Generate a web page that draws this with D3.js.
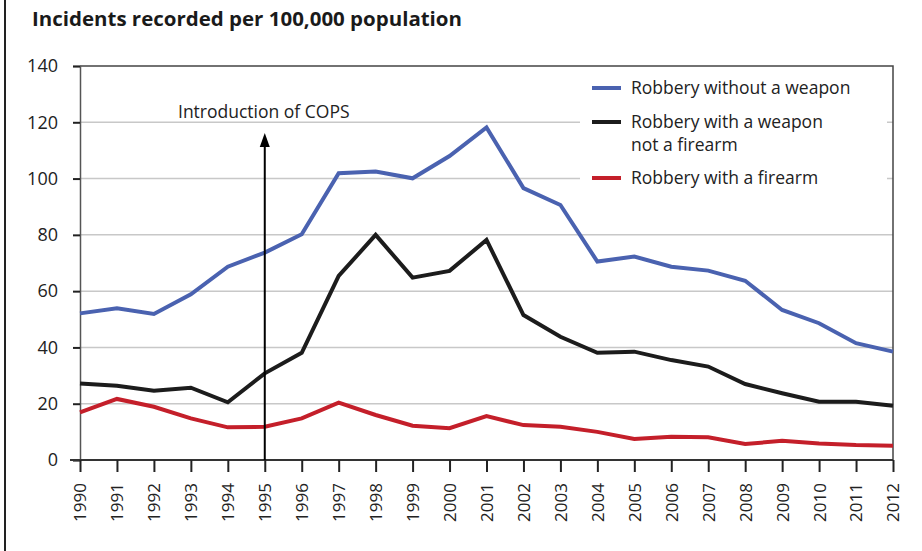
<!DOCTYPE html>
<html><head><meta charset="utf-8">
<script src="https://cdn.jsdelivr.net/npm/d3@7"></script>
<style>body{margin:0;background:#fff}svg{display:block;font-family:"Open Sans",sans-serif}</style>
</head><body><div id="chart"></div>
<script>
const years = d3.range(1990, 2013);
const withoutWeapon = [52.1,53.9,51.9,58.9,68.7,73.7,80.2,101.9,102.5,100.1,108,118.2,96.6,90.6,70.5,72.3,68.7,67.3,63.7,53.3,48.6,41.5,38.5];
const weaponNotFirearm = [27.2,26.4,24.6,25.7,20.5,30.8,38.1,65.4,80,64.8,67.2,78.2,51.5,43.8,38.1,38.5,35.5,33.2,27,23.7,20.7,20.7,19.3];
const withFirearm = [16.9,21.7,18.9,14.8,11.6,11.8,14.8,20.4,16,12.2,11.3,15.6,12.4,11.8,10,7.5,8.3,8.1,5.7,6.8,5.9,5.3,5.1];
const yTicks = [0,20,40,60,80,100,120,140];
const seriesNames = ["Robbery without a weapon", "Robbery with a weapon|not a firearm", "Robbery with a firearm"];
const seriesColors = ["#4a62b0", "#1c1c1c", "#c41f2a"];
const title = "Incidents recorded per 100,000 population";
const annotation = "Introduction of COPS";
const annotationYear = 1995;

const FONT = "'Open Sans',sans-serif";
const W = 922, H = 551;
const m = {left:80, right:29, top:66, bottom:91};
const svg = d3.select("#chart").append("svg").attr("width", W).attr("height", H);
const x = d3.scaleLinear().domain([1990, 2012]).range([m.left, W - m.right]);
const y = d3.scaleLinear().domain([0, 140]).range([H - m.bottom, m.top]);

// left page border
svg.append("line").attr("x1",5).attr("x2",5).attr("y1",0).attr("y2",H).attr("stroke","#222").attr("stroke-width",2);

svg.append("text").attr("x",32).attr("y",26).attr("font-size",19.5).attr("font-weight","bold").attr("fill","#1a1a1a")
  .attr("textLength",430).attr("lengthAdjust","spacingAndGlyphs").text(title);

// gridlines
svg.append("g").selectAll("line").data(yTicks.filter(d=>d>0 && d<140)).join("line")
  .attr("x1",m.left).attr("x2",W-m.right).attr("y1",d=>y(d)).attr("y2",d=>y(d))
  .attr("stroke","#c8c8c8").attr("stroke-width",1.5);

// frame top & right
svg.append("path").attr("d",`M${m.left},${y(140)}H${x(2012)}V${y(0)}`).attr("fill","none").attr("stroke","#444").attr("stroke-width",1.5);

// y axis
const ya = svg.append("g").attr("transform",`translate(${m.left},0)`)
  .call(d3.axisLeft(y).tickValues(yTicks).tickSize(7).tickPadding(15));
ya.select(".domain").attr("stroke","#555").attr("stroke-width",1.5);
ya.selectAll(".tick line").attr("stroke","#222").attr("stroke-width",2);
ya.selectAll("text").attr("font-size",18).attr("fill","#222").attr("font-family",FONT);

// x axis
const xa = svg.append("g").attr("transform",`translate(0,${y(0)})`)
  .call(d3.axisBottom(x).tickValues(years).tickFormat(d3.format("d")).tickSize(12).tickSizeOuter(0));
xa.select(".domain").attr("stroke","#333").attr("stroke-width",2).attr("d",`M${m.left-10},0H${x(2012)}`);
xa.selectAll(".tick line").attr("stroke","#222").attr("stroke-width",2);
xa.selectAll("text").attr("font-size",17).attr("fill","#222").attr("font-family",FONT)
  .attr("transform","rotate(-90)").attr("text-anchor","end").attr("dy","0.35em").attr("x",-23).attr("y",0);

// legend box background
svg.append("rect").attr("x",580).attr("y",y(140)+1).attr("width",x(2012)-580-6).attr("height",134).attr("fill","#fff");

// lines
const allSeries = [withoutWeapon, weaponNotFirearm, withFirearm];
const line = d3.line().x((d,i)=>x(years[i])).y(d=>y(d));
[2,1,0].forEach(idx=>{
  svg.append("path").datum(allSeries[idx]).attr("d",line).attr("fill","none")
    .attr("stroke",seriesColors[idx]).attr("stroke-width",4).attr("stroke-linejoin","miter");
});

// annotation arrow
const ax = x(annotationYear);
svg.append("line").attr("x1",ax).attr("x2",ax).attr("y1",y(0)).attr("y2",140).attr("stroke","#000").attr("stroke-width",2);
svg.append("path").attr("d",`M${ax-5},${147}L${ax},${133}L${ax+5},${147}Z`).attr("fill","#000");
svg.append("text").attr("x",178).attr("y",118).attr("font-size",17.5).attr("fill","#222").text(annotation);

// legend
const legY = [88,122,178];
seriesNames.forEach((n,i)=>{
  svg.append("line").attr("x1",592).attr("x2",621).attr("y1",legY[i]).attr("y2",legY[i]).attr("stroke",seriesColors[i]).attr("stroke-width",4);
  const parts = n.split("|");
  const t = svg.append("text").attr("x",631).attr("y",legY[i]).attr("font-size",17.5).attr("fill","#222");
  parts.forEach((p,j)=>t.append("tspan").attr("x",631).attr("dy", j===0?"0.35em":"23").text(p));
});
</script></body></html>
